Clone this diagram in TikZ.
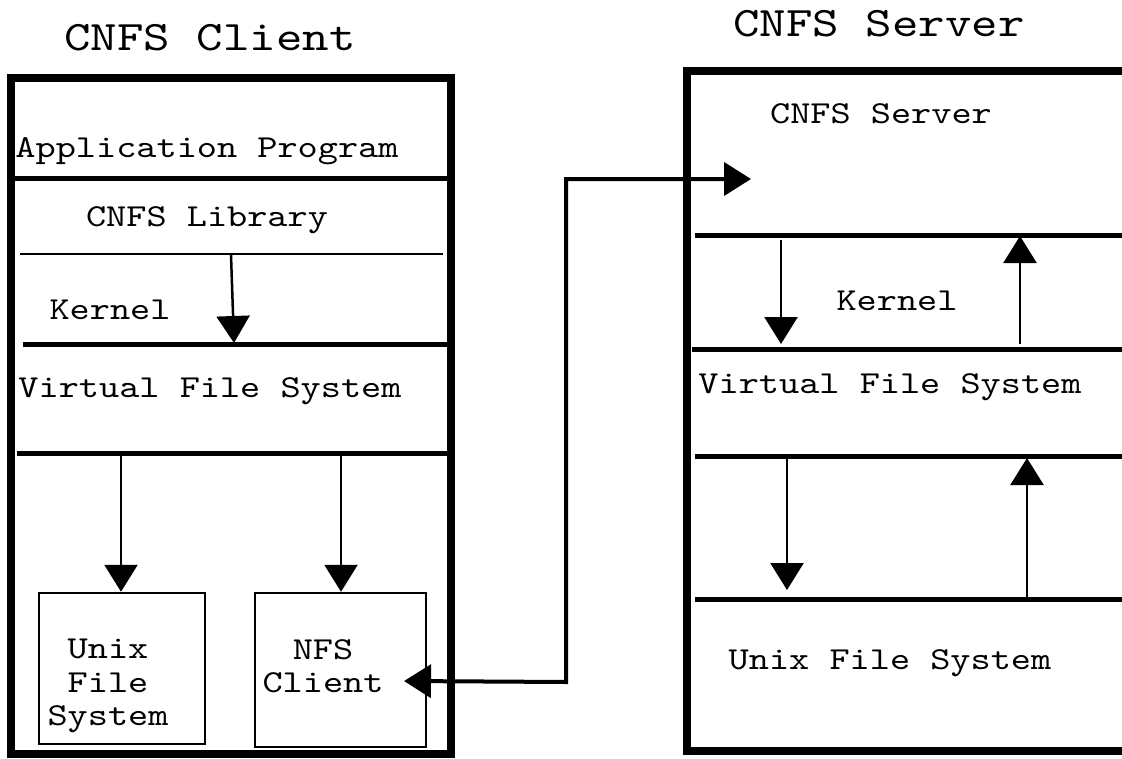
\documentclass[tikz,border=0pt]{standalone}
\usepackage{fontspec}
\newfontfamily\cnfsfont{lmmono10-regular.otf}[FakeStretch=1.2]
\usetikzlibrary{arrows.meta,positioning,calc}

\begin{document}
\begin{tikzpicture}[
  x=1pt, y=-1pt,
  box/.style={draw, line width=8pt, inner sep=0pt},
  subbox/.style={draw, line width=2.5pt, inner sep=0pt},
  layer/.style={line width=5pt},
  thinlayer/.style={line width=2.5pt},
  txt/.style={font={\cnfsfont\fontsize{32}{33.5}\selectfont}, inner sep=0pt, anchor=base},
  boxtxt/.style={font={\cnfsfont\fontsize{32}{33.5}\selectfont}, inner sep=0pt, align=center},
  title/.style={font={\cnfsfont\fontsize{42}{42}\selectfont}, inner sep=0pt, anchor=base},
  call/.style={-{Triangle[length=27pt,width=33pt]}, line width=2.5pt},
  link/.style={{Triangle[length=27pt,width=33pt]}-{Triangle[length=27pt,width=33pt]}, line width=4pt},
]
  \useasboundingbox (0,0) rectangle (1122,758);

  %% Titles
  \node[title] (clienttitle) at (210,50) {CNFS Client};
  \node[title] (servertitle) at (879,36) {CNFS Server};

  %% Client side
  \node[box, minimum width=440pt, minimum height=676pt] (clientbox) at (231,416) {};
  \draw[layer] (11,178) -- (451,178);
  \draw[thinlayer] (20,254) -- (443,254);
  \draw[layer] (23,344) -- (447,344);
  \draw[layer] (17,453) -- (451,453);

  \node[txt] (app) at (207,157) {Application Program};
  \node[txt] (lib) at (207,226) {CNFS Library};
  \node[txt] (ckernel) at (110,319) {Kernel};
  \node[txt] (cvfs) at (210,397) {Virtual File System};

  \node[subbox, minimum width=166pt, minimum height=151pt] (unixbox) at (122,668.5) {};
  \node[subbox, minimum width=171pt, minimum height=154pt] (nfsbox) at (340.5,670) {};
  \node[boxtxt] (unixtxt) at (108,686) {Unix\\File\\System};
  \node[boxtxt] (nfstxt) at (323,666) {NFS\\Client};

  %% Client calls
  \coordinate (libout) at (231,255);
  \coordinate (vfsin) at (234,343);
  \coordinate (vfsleft) at (121,455);
  \coordinate (vfsright) at (341,455);
  \draw[call] (libout) -- (vfsin);
  \draw[call] (vfsleft) -- (vfsleft |- unixbox.north);
  \draw[call] (vfsright) -- (vfsright |- nfsbox.north);

  %% Server side
  \node[box, minimum width=453pt, minimum height=680pt] (serverbox) at (913.5,411) {};
  \draw[layer] (695,235) -- (1122,235);
  \draw[layer] (692,349) -- (1122,349);
  \draw[layer] (695,456) -- (1122,456);
  \draw[layer] (695,599) -- (1122,599);

  \node[txt] (srv) at (881,123) {CNFS Server};
  \node[txt] (skernel) at (897,310) {Kernel};
  \node[txt] (svfs) at (890,393) {Virtual File System};
  \node[txt] (sufs) at (890,669) {Unix File System};

  %% Server calls
  \coordinate (kdown) at (781,240);
  \coordinate (kdownend) at (781,344);
  \coordinate (kup) at (1020,344);
  \coordinate (kupend) at (1020,236);
  \coordinate (vdown) at (787,458);
  \coordinate (vdownend) at (787,590);
  \coordinate (vup) at (1027,598);
  \coordinate (vupend) at (1027,458);
  \draw[call] (kdown) -- (kdownend);
  \draw[call] (kup) -- (kupend);
  \draw[call] (vdown) -- (vdownend);
  \draw[call] (vup) -- (vupend);

  %% Client <-> server link
  \coordinate (nfsin) at (404,681);
  \coordinate (bend) at (566,682);
  \coordinate (srvin) at (751,179);
  \draw[link] (nfsin) -- (bend) |- (srvin);

\end{tikzpicture}
\end{document}
